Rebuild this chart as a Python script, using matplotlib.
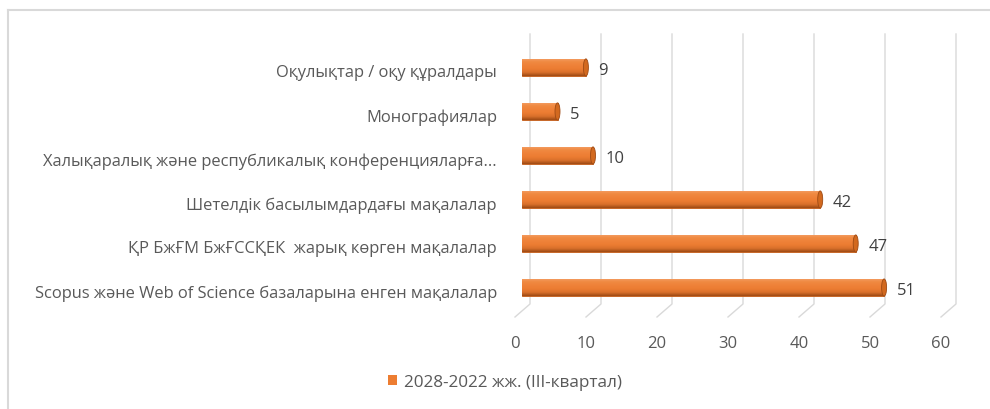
import matplotlib.pyplot as plt
import matplotlib.transforms as mtransforms
from matplotlib.lines import Line2D
from matplotlib.patches import Ellipse, Rectangle
from matplotlib.colors import LinearSegmentedColormap
import numpy as np

plt.rcParams['font.family'] = ['Open Sans', 'DejaVu Sans']

categories = [
    'Scopus және Web of Science базаларына енген мақалалар',
    'ҚР БжҒМ БжҒССҚЕК  жарық көрген мақалалар',
    'Шетелдік басылымдардағы мақалалар',
    'Халықаралық және республикалық конференцияларға...',
    'Монографиялар',
    'Оқулықтар / оқу құралдары',
]
values = [51, 47, 42, 10, 5, 9]
series_name = '2028-2022 жж. (III-квартал)'
xticks = [0, 10, 20, 30, 40, 50, 60]

orange = '#ED7D31'
text_col = '#595959'
grid_col = '#D9D9D9'

fig = plt.figure(figsize=(9.9, 4.1), dpi=100)
W, H = 990, 410

# axes placed in pixel units (mid-depth plane of the 3d look)
left_px, right_px, top_px, bot_px = 522, 948, 35, 318
ax = fig.add_axes([left_px / W, 1 - bot_px / H,
                   (right_px - left_px) / W, (bot_px - top_px) / H])
ax.set_xlim(0, 60)
ax.set_ylim(-0.67, 5.76)
for s in ax.spines.values():
    s.set_visible(False)

px_x = (right_px - left_px) / 60.0
px_y = 44.0

# back wall gridlines with perspective foot
ylo = ax.get_ylim()[0]
for v in xticks:
    xb = v + 8 / px_x
    xf = v - 7 / px_x
    yb = ylo + 13 / px_y
    ax.plot([xb, xb, xf], [5.76, yb, ylo], color=grid_col, lw=1.0,
            clip_on=False, zorder=0)

# bars with cylinder-like shading
y = np.arange(len(categories))
bh = 0.39
grad = np.linspace(0, 1, 64).reshape(-1, 1)
cmap = LinearSegmentedColormap.from_list(
    'cyl', ['#9E4A14', '#D9702B', '#EC7C32', '#EF8239', '#F08A42', '#F4A067'])
bars = ax.barh(y, values, height=bh, color=orange, edgecolor='#C05A18',
               linewidth=0.6, zorder=2)
for rect in bars:
    x0, y0 = rect.get_x(), rect.get_y()
    w, h = rect.get_width(), rect.get_height()
    im = ax.imshow(grad, cmap=cmap, aspect='auto',
                   extent=[x0, x0 + w, y0, y0 + h], origin='lower', zorder=2)
    im.set_clip_path(rect)
    cap = Ellipse((x0 + w, y0 + h / 2), width=5 / px_x, height=h,
                  facecolor='#D2691F', edgecolor='#9E4A14', lw=0.6, zorder=3)
    ax.add_patch(cap)
    ax.annotate(str(int(w)), xy=(x0 + w, y0 + h / 2), xytext=(9, -2),
                textcoords='offset points', ha='left', va='center',
                fontsize=12, color='#404040')

ax.set_xlim(0, 60)
ax.set_ylim(-0.67, 5.76)

ax.set_yticks(y)
ax.set_yticklabels(categories, fontsize=11.9, color=text_col)
ax.tick_params(axis='y', length=0, pad=18)
for lab in ax.get_yticklabels():
    lab.set_transform(lab.get_transform() +
                      mtransforms.ScaledTranslation(0, -3 / 100, fig.dpi_scale_trans))

ax.set_xticks(xticks)
ax.set_xticklabels([str(t) for t in xticks], fontsize=12, color=text_col)
ax.tick_params(axis='x', length=0, pad=13)
for lab in ax.get_xticklabels():
    lab.set_transform(lab.get_transform() +
                      mtransforms.ScaledTranslation(-7 / 100, 0, fig.dpi_scale_trans))

# legend
handle = Rectangle((0, 0), 1, 1, facecolor=orange)
fig.legend([handle], [series_name], loc='center', bbox_to_anchor=(505 / W, 1 - 383 / H),
           frameon=False, fontsize=12.3, labelcolor=text_col,
           handlelength=0.55, handleheight=0.55, handletextpad=0.4)

# chart border (left and top)
fig.add_artist(Line2D([8 / W, 8 / W], [0, 1 - 11 / H], color='#D9D9D9', lw=1.5))
fig.add_artist(Line2D([8 / W, 1], [1 - 11 / H, 1 - 11 / H], color='#D9D9D9', lw=1.5))

fig.savefig('out.png', dpi=100)
